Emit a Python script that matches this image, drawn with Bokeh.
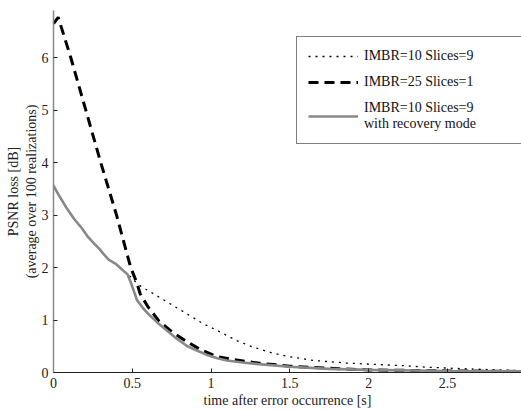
from bokeh.plotting import figure
from bokeh.models import Range1d, Legend, LegendItem, FixedTicker
from bokeh.embed import file_html
from bokeh.resources import INLINE

# --- data ---
gray_x = [0, 0.03, 0.08, 0.13, 0.18, 0.22, 0.26, 0.29, 0.32, 0.35, 0.40, 0.44, 0.47, 0.49, 0.51, 0.53,
          0.57, 0.61, 0.66, 0.72, 0.78, 0.85, 0.91, 0.97, 1.04, 1.10, 1.2, 1.3, 1.5, 1.75, 2.0, 2.5, 3.0]
gray_y = [3.56, 3.40, 3.15, 2.93, 2.75, 2.58, 2.45, 2.36, 2.25, 2.15, 2.06, 1.95, 1.87, 1.72, 1.55, 1.38,
          1.22, 1.09, 0.95, 0.80, 0.65, 0.50, 0.42, 0.34, 0.27, 0.23, 0.19, 0.16, 0.11, 0.07, 0.05, 0.03, 0.02]

dash_x = [0, 0.03, 0.11, 0.205, 0.30, 0.40, 0.49, 0.53, 0.55, 0.60, 0.67, 0.75, 0.84, 0.93, 1.03, 1.13,
          1.3, 1.5, 1.75, 2.0, 2.5, 3.0]
dash_y = [6.65, 6.77, 6.0, 5.0, 4.0, 3.0, 2.0, 1.7, 1.5, 1.25, 0.98, 0.78, 0.60, 0.44, 0.31, 0.25,
          0.18, 0.12, 0.08, 0.05, 0.03, 0.02]

dot_x = [0, 0.03, 0.08, 0.13, 0.18, 0.22, 0.26, 0.29, 0.32, 0.35, 0.40, 0.44, 0.47,
         0.50, 0.53, 0.635, 0.74, 0.846, 0.95, 1.06, 1.16, 1.27, 1.39, 1.5, 1.65, 1.86, 2.07, 2.22,
         2.37, 2.62, 2.91, 3.0]
dot_y = [3.56, 3.40, 3.15, 2.93, 2.75, 2.58, 2.45, 2.36, 2.25, 2.15, 2.06, 1.95, 1.87,
         1.80, 1.69, 1.50, 1.31, 1.12, 0.93, 0.77, 0.61, 0.48, 0.37, 0.30, 0.23, 0.18, 0.15, 0.13,
         0.10, 0.07, 0.04, 0.035]

x_ticks = [0, 0.5, 1, 1.5, 2, 2.5, 3]
y_ticks = [0, 1, 2, 3, 4, 5, 6]

labels = ["IMBR=10 Slices=9", "IMBR=25 Slices=1", "IMBR=10 Slices=9\nwith recovery mode"]
x_title = "time after error occurrence [s]"
y_title = "PSNR loss [dB]\n(average over 100 realizations)"

FONT = "Liberation Serif"

p = figure(width=521, height=410, frame_width=468, frame_height=362,
           output_backend="svg", toolbar_location=None,
           x_range=Range1d(0, 2.97), y_range=Range1d(0, 6.9),
           min_border_left=53, min_border_right=0, min_border_top=10, min_border_bottom=38)
p.outline_line_color = None
p.background_fill_color = "white"
p.border_fill_color = "white"
p.grid.visible = False

r_dot = p.line(dot_x, dot_y, line_color="black", line_width=1.3, line_dash="2 5")
r_dash = p.line(dash_x, dash_y, line_color="black", line_width=3, line_dash="10 6")
r_gray = p.line(gray_x, gray_y, line_color="#888888", line_width=2.6)

for ax in (p.xaxis[0], p.yaxis[0]):
    ax.major_tick_in = 4
    ax.major_tick_out = 0
    ax.minor_tick_in = 0
    ax.minor_tick_out = 0
    ax.major_label_text_font = FONT
    ax.major_label_text_font_size = "14px"
    ax.major_label_text_color = "#222222"
    ax.axis_label_text_font = FONT
    ax.axis_label_text_font_size = "14px"
    ax.axis_label_text_font_style = "normal"
    ax.axis_label_text_color = "#222222"
    ax.major_tick_line_color = "#222222"

p.xaxis.ticker = FixedTicker(ticks=x_ticks)
p.yaxis.ticker = FixedTicker(ticks=y_ticks)
p.xaxis.axis_line_color = "#222222"
p.yaxis.axis_line_color = "#888888"
p.yaxis.axis_line_width = 1.5
p.xaxis.major_label_standoff = 5
p.yaxis.major_label_standoff = 5
p.xaxis.axis_label = x_title
p.xaxis.axis_label_standoff = 2
p.yaxis.axis_label = y_title
p.yaxis.axis_label_standoff = 0

legend = Legend(items=[LegendItem(label=labels[0], renderers=[r_dot]),
                       LegendItem(label=labels[1], renderers=[r_dash]),
                       LegendItem(label=labels[2], renderers=[r_gray])],
                location=(243, 228))
legend.label_text_font = FONT
legend.label_text_font_size = "14px"
legend.label_text_color = "#111111"
legend.glyph_width = 50
legend.glyph_height = 16
legend.label_height = 16
legend.label_width = 146
legend.label_standoff = 6
legend.spacing = 10
legend.padding = 11
legend.margin = 0
legend.border_line_color = "black"
legend.border_line_width = 1.5
legend.background_fill_alpha = 1
p.add_layout(legend)

open("out.html", "w").write(file_html(p, INLINE))
